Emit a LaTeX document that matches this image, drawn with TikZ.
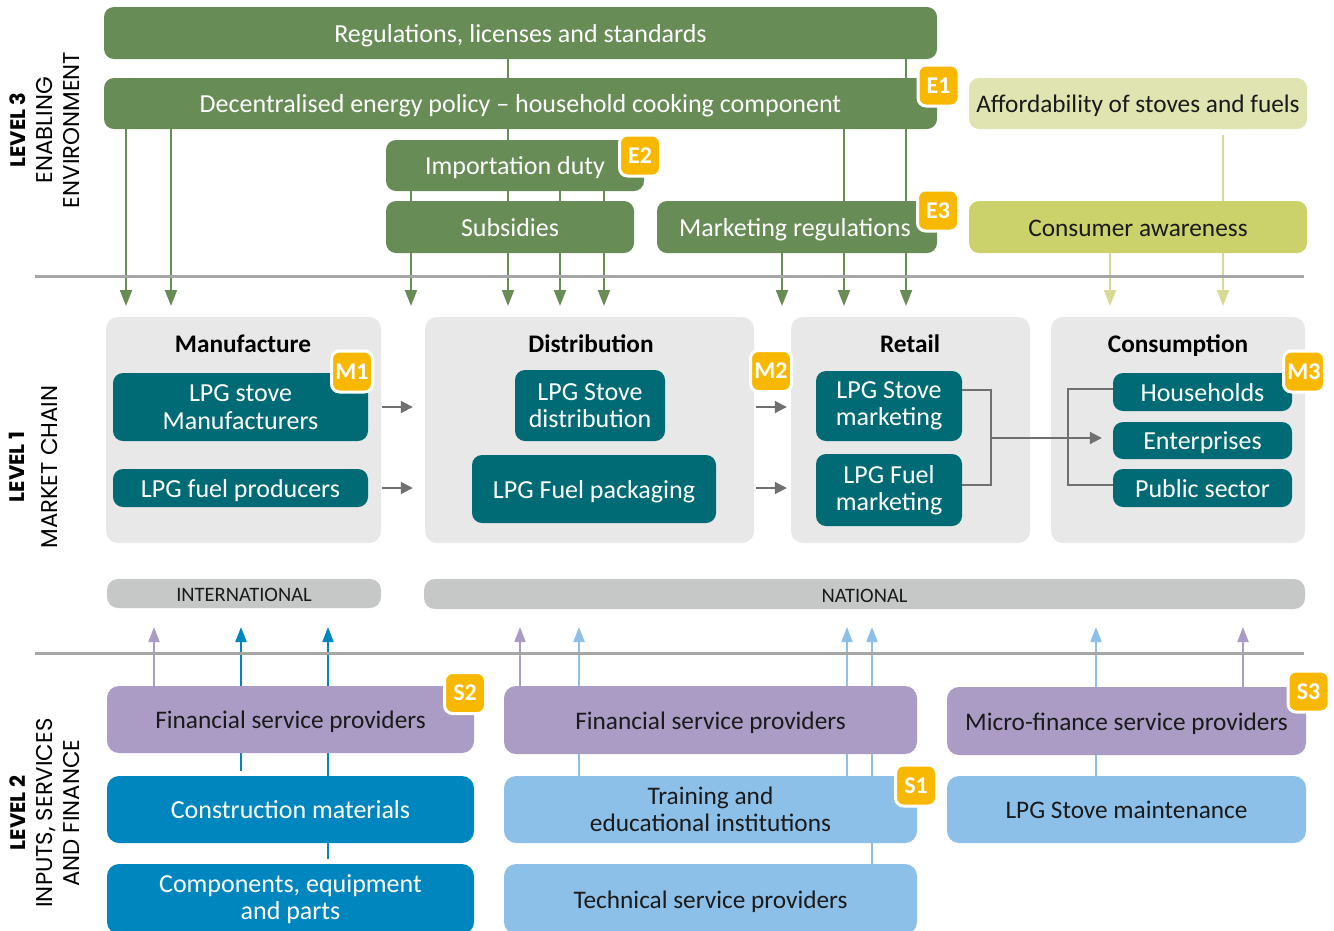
\documentclass[tikz,border=0pt]{standalone}
\usepackage{fontspec}
\setmainfont{Carlito}
\newfontfamily\labfont{Poppins}
\usetikzlibrary{arrows.meta,backgrounds}
\definecolor{cG}{HTML}{678C55}
\definecolor{cTeal}{HTML}{006B74}
\definecolor{cYel}{HTML}{F9B800}
\definecolor{cPur}{HTML}{AB9CC5}
\definecolor{cDBlue}{HTML}{0086BF}
\definecolor{cLBlue}{HTML}{8DC0E8}
\definecolor{cAff}{HTML}{E0E4B1}
\definecolor{cCA}{HTML}{CBD16B}
\definecolor{cPanel}{HTML}{E8E8E8}
\definecolor{cBar}{HTML}{C6C7C7}
\definecolor{cSep}{HTML}{A6A6A6}
\definecolor{cArr}{HTML}{707070}
\definecolor{cLArr}{HTML}{D5DA95}
\definecolor{cTxt}{HTML}{1A1A1A}
\newcommand\wsz{\fontsize{26}{27.5}\selectfont}
\newcommand\dsz{\fontsize{25.3}{27.5}\selectfont}
\newcommand\barsz{\fontsize{20.5}{22}\selectfont}
\newcommand\badgesz{\fontsize{24}{26}\selectfont}
\newcommand\labsz{\fontsize{22.8}{27}\selectfont}
\newcommand\labbsz{\fontsize{21}{27}\selectfont}
\tikzset{
  anybox/.style={rounded corners=10pt, inner sep=0pt, align=center},
  oneline/.style={text height=20.5pt, text depth=2pt},
  gbox/.style={anybox, fill=cG, text=white, font=\wsz},
  affbox/.style={anybox, fill=cAff, text=cTxt, font=\dsz},
  cabox/.style={anybox, fill=cCA, text=cTxt, font=\dsz},
  tbox/.style={anybox, fill=cTeal, text=white, font=\wsz},
  panel/.style={rounded corners=12pt, fill=cPanel, inner sep=0pt},
  ptitle/.style={font=\dsz\bfseries, anchor=base, inner sep=0pt, text=black},
  bar/.style={rounded corners=11pt, fill=cBar, inner sep=0pt, font=\barsz, text=cTxt, text height=16.2pt, text depth=0pt},
  pbox/.style={anybox, rounded corners=12pt, fill=cPur, text=cTxt, font=\dsz},
  dbbox/.style={anybox, rounded corners=12pt, fill=cDBlue, text=white, font=\wsz},
  lbbox/.style={anybox, rounded corners=12pt, fill=cLBlue, text=cTxt, font=\dsz},
  badge/.style={fill=cYel, draw=white, line width=3pt, rounded corners=8pt, minimum width=41pt, minimum height=41pt, inner sep=0pt, text=white, font=\badgesz\bfseries},
  garrow/.style={draw=cG, line width=2pt, -{Triangle[width=12pt,length=16pt]}},
  larrow/.style={draw=cLArr, line width=2pt, -{Triangle[width=12pt,length=16pt]}},
  carrow/.style={draw=cArr, line width=2pt, -{Triangle[width=12pt,length=12pt]}},
  cline/.style={draw=cArr, line width=2pt},
  parrow/.style={draw=cPur, line width=2pt, -{Triangle[width=11pt,length=15pt]}},
  dbarrow/.style={draw=cDBlue, line width=2pt, -{Triangle[width=11pt,length=15pt]}},
  lbarrow/.style={draw=cLBlue, line width=2pt, -{Triangle[width=11pt,length=15pt]}},
  sep/.style={draw=cSep, line width=3pt},
  lvl/.style={rotate=90, align=center, inner sep=0pt, text=black}
}
\begin{document}
\begin{tikzpicture}[x=1pt,y=-1pt]
\useasboundingbox (0,0) rectangle (1334,930);
\clip (0,0) rectangle (1334,930);

% ---------- LEVEL 3 ----------
\node[gbox, oneline, minimum width=833pt, minimum height=52pt] (reg) at (520.5,33) {Regulations, licenses and standards};
\node[gbox, oneline, minimum width=833pt, minimum height=51pt] (dec) at (520.5,103.5) {Decentralised energy policy -- household cooking component};
\node[affbox, oneline, minimum width=338pt, minimum height=51pt] (aff) at (1138,103.5) {Affordability of stoves and fuels};
\node[gbox, oneline, minimum width=258pt, minimum height=51pt] (imp) at (515,165.5) {Importation duty};
\node[gbox, oneline, minimum width=248pt, minimum height=52pt] (sub) at (510,227) {Subsidies};
\node[gbox, oneline, minimum width=280pt, minimum height=52pt] (mkt) at (797,227) {Marketing regulations\hspace*{4pt}};
\node[cabox, oneline, minimum width=338pt, minimum height=52pt] (ca) at (1138,227) {Consumer awareness};

\coordinate (t126) at (126,306);
\coordinate (t171) at (171,306);
\coordinate (t411) at (411,306);
\coordinate (t508) at (508,306);
\coordinate (t560) at (560,306);
\coordinate (t604) at (604,306);
\coordinate (t782) at (782,306);
\coordinate (t844) at (844,306);
\coordinate (t906) at (906,306);
\coordinate (t1110) at (1110,306);
\coordinate (t1223) at (1223,306);

% separators
\coordinate (s1a) at (35,276);
\coordinate (s1b) at (1304,276);
\coordinate (s2a) at (35,653);
\coordinate (s2b) at (1304,653);
\draw[sep] (s1a) -- (s1b);
\draw[sep] (s2a) -- (s2b);

% ---------- LEVEL 1 ----------
\node[panel, minimum width=275pt, minimum height=226pt] (manP) at (243.5,430) {};
\node[panel, minimum width=329pt, minimum height=226pt] (disP) at (589.5,430) {};
\node[panel, minimum width=239pt, minimum height=226pt] (retP) at (910.5,430) {};
\node[panel, minimum width=254pt, minimum height=226pt] (conP) at (1178,430) {};

\node[ptitle] (manT) at (243,352) {Manufacture};
\node[ptitle] (disT) at (591,352) {Distribution};
\node[ptitle] (retT) at (910,352) {Retail};
\node[ptitle] (conT) at (1178,352) {Consumption};

\node[tbox, minimum width=255pt, minimum height=68pt] (lpgSM) at (240.5,407) {LPG stove\\Manufacturers};
\node[tbox, oneline, minimum width=255pt, minimum height=38pt] (lpgFP) at (240.5,488) {LPG fuel producers};
\node[tbox, minimum width=150pt, minimum height=71pt] (lpgSD) at (590,405.5) {LPG Stove\\distribution};
\node[tbox, oneline, minimum width=244pt, minimum height=68pt] (lpgFPk) at (594,489) {LPG Fuel packaging};
\node[tbox, minimum width=146pt, minimum height=70pt] (lpgSMk) at (889,406) {LPG Stove\\marketing};
\node[tbox, minimum width=146pt, minimum height=72pt] (lpgFMk) at (889,490) {LPG Fuel\\marketing};
\node[tbox, oneline, minimum width=179pt, minimum height=38pt] (hh) at (1202.5,392) {Households};
\node[tbox, oneline, minimum width=179pt, minimum height=37pt] (ent) at (1202.5,440.5) {Enterprises};
\node[tbox, oneline, minimum width=179pt, minimum height=38pt] (pub) at (1202.5,488) {Public sector};

\draw[carrow, shorten <=1pt, shorten >=12pt] (manP.east |- lpgSM) -- (disP.west |- lpgSM);
\draw[carrow, shorten <=1pt, shorten >=12pt] (manP.east |- lpgFP) -- (disP.west |- lpgFP);
\draw[carrow, shorten <=2pt, shorten >=4pt] (disP.east |- lpgSM) -- (retP.west |- lpgSM);
\draw[carrow, shorten <=2pt, shorten >=4pt] (disP.east |- lpgFP) -- (retP.west |- lpgFP);

\coordinate (bj) at (991,438);
\coordinate (bk) at (1068,438);
\draw[cline] ([yshift=16pt]lpgSMk.east) -| (bj) |- ([yshift=5pt]lpgFMk.east);
\draw[carrow, shorten >=11pt] (bj) -- (bj -| ent.west);
\draw[cline] ([yshift=3pt]hh.west) -| (bk) |- ([yshift=3pt]pub.west);

\node[bar, minimum width=274pt, minimum height=29pt] (intl) at (244,593.5) {INTERNATIONAL};
\node[bar, minimum width=881pt, minimum height=30pt] (natl) at (864.5,594) {NATIONAL};

% ---------- LEVEL 2 ----------
\node[pbox, oneline, minimum width=367pt, minimum height=67pt] (fin1) at (290.5,719.5) {Financial service providers};
\node[dbbox, oneline, minimum width=367pt, minimum height=67pt] (constr) at (290.5,809.5) {Construction materials};
\node[dbbox, minimum width=367pt, minimum height=70pt] (comp) at (290.5,899) {Components, equipment\\and parts};
\node[pbox, oneline, minimum width=413pt, minimum height=68pt] (fin2) at (710.5,720) {Financial service providers};
\node[lbbox, minimum width=413pt, minimum height=67pt] (train) at (710.5,809.5) {Training and\\educational institutions};
\node[lbbox, oneline, minimum width=413pt, minimum height=70pt] (tech) at (710.5,899) {Technical service providers};
\node[pbox, oneline, minimum width=359pt, minimum height=68pt] (micro) at (1126.5,721) {Micro-finance service providers};
\node[lbbox, oneline, minimum width=359pt, minimum height=67pt] (maint) at (1126.5,809.5) {LPG Stove maintenance};

\coordinate (b154) at (154,627);
\coordinate (b241) at (241,627);
\coordinate (b328) at (328,627);
\coordinate (b520) at (520,627);
\coordinate (b579) at (579,627);
\coordinate (b847) at (847,627);
\coordinate (b872) at (872,627);
\coordinate (b1096) at (1096,627);
\coordinate (b1243) at (1243,627);

% ---------- connectors behind boxes ----------
\begin{pgfonlayer}{background}
\fill[white] (0,0) rectangle (1334,930);
\draw[garrow] (reg.south -| t508) -- (t508);
\draw[garrow] (reg.south -| t906) -- (t906);
\draw[garrow] (dec.south -| t126) -- (t126);
\draw[garrow] (dec.south -| t171) -- (t171);
\draw[garrow] (dec.south -| t844) -- (t844);
\draw[garrow] (imp.south -| t411) -- (t411);
\draw[garrow] (imp.south -| t560) -- (t560);
\draw[garrow] (imp.south -| t604) -- (t604);
\draw[garrow] (mkt.south -| t782) -- (t782);
\draw[larrow] ([yshift=-6pt]aff.south -| t1223) -- (t1223);
\draw[larrow] (ca.south -| t1110) -- (t1110);

\draw[parrow] (fin1.north -| b154) -- (b154);
\draw[dbarrow] ([yshift=5pt]constr.north -| b241) -- (b241);
\draw[dbarrow] ([yshift=5pt]comp.north -| b328) -- (b328);
\draw[parrow] (fin2.north -| b520) -- (b520);
\draw[lbarrow] (train.north -| b579) -- (b579);
\draw[lbarrow] (train.north -| b847) -- (b847);
\draw[lbarrow] (tech.north -| b872) -- (b872);
\draw[lbarrow] (maint.north -| b1096) -- (b1096);
\draw[parrow] (micro.north -| b1243) -- (b1243);
\end{pgfonlayer}

% ---------- badges ----------
\node[badge] (E1) at (938.5,85.5) {E1};
\node[badge] (E2) at (640,155.5) {E2};
\node[badge] (E3) at (938,210.5) {E3};
\node[badge] (M1) at (352,371.5) {M1};
\node[badge] (M2) at (771,371) {M2};
\node[badge] (M3) at (1304,371.5) {M3};
\node[badge] (S2) at (465,693) {S2};
\node[badge] (S1) at (916,785.5) {S1};
\node[badge] (S3) at (1308.5,691.5) {S3};

% ---------- level labels ----------
\node[lvl, font=\labfont\labsz] (lab3) at (45,130) {{\labbsz\bfseries LEVEL 3}\\ENABLING\\ENVIRONMENT};
\node[lvl, font=\labfont\fontsize{22.8}{33}\selectfont] (lab1) at (33.5,467) {{\labbsz\bfseries LEVEL 1}\\MARKET CHAIN};
\node[lvl, font=\labfont\labsz] (lab2) at (45,813) {{\labbsz\bfseries LEVEL 2}\\INPUTS, SERVICES\\AND FINANCE};
\end{tikzpicture}
\end{document}
